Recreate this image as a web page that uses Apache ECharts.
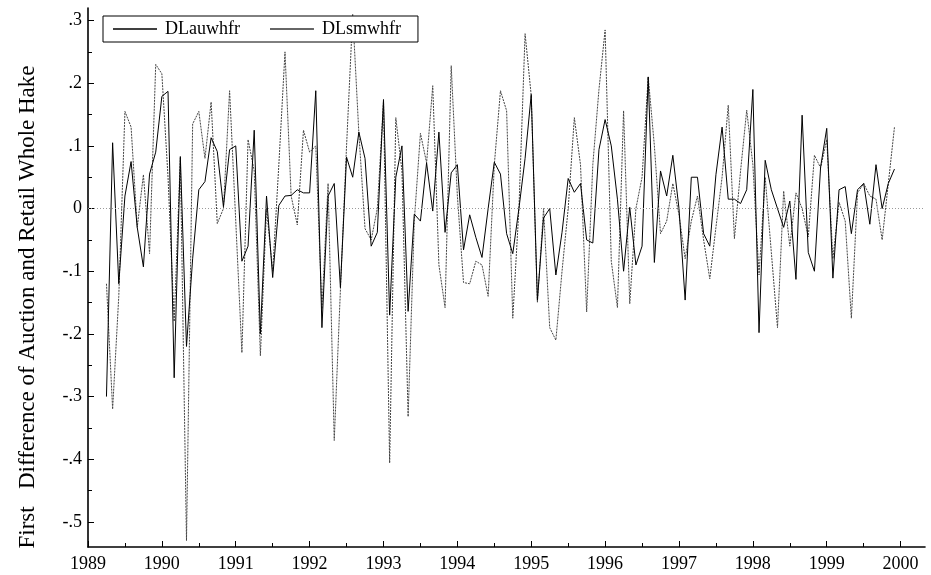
<!DOCTYPE html>
<html>
<head>
<meta charset="utf-8">
<script src="https://cdn.jsdelivr.net/npm/echarts@6/dist/echarts.min.js"></script>
<style>
html,body{margin:0;padding:0;background:#fff;}
#chart{width:931px;height:575px;}
</style>
</head>
<body>
<div id="chart"></div>
<script>
// Monthly series, first observation April 1989
const startYear = 1989;
const startMonth = 4;
const seriesNames = ['DLauwhfr', 'DLsmwhfr'];
const auction = [
  -0.30, 0.105, -0.12, 0.02, 0.075, -0.03, -0.093, 0.055, 0.09,
  0.179, 0.187, -0.27, 0.083, -0.22, -0.08, 0.03, 0.043, 0.113, 0.091, 0.003, 0.094,
  0.10, -0.084, -0.06, 0.125, -0.20, 0.02, -0.11, 0.005, 0.02, 0.021, 0.03, 0.025,
  0.025, 0.188, -0.19, 0.02, 0.04, -0.126, 0.082, 0.05, 0.122, 0.08, -0.06, -0.038,
  0.174, -0.17, 0.05, 0.10, -0.164, -0.009, -0.02, 0.073, -0.004, 0.122, -0.038, 0.057,
  0.07, -0.066, -0.01, -0.046, -0.078, 0.0, 0.074, 0.055, -0.04, -0.072, 0.0, 0.08,
  0.182, -0.146, -0.015, 0.0, -0.106, -0.038, 0.048, 0.026, 0.04, -0.05, -0.055, 0.094,
  0.142, 0.10, 0.015, -0.10, 0.002, -0.09, -0.06, 0.21, -0.086, 0.06, 0.02, 0.085,
  0.0, -0.146, 0.05, 0.05, -0.04, -0.06, 0.054, 0.13, 0.015, 0.015, 0.008, 0.03,
  0.19, -0.198, 0.077, 0.03, 0.0, -0.03, 0.012, -0.113, 0.149, -0.07, -0.10, 0.066,
  0.128, -0.111, 0.03, 0.035, -0.04, 0.03, 0.04, -0.025, 0.07, 0.0, 0.04, 0.063
];
const retail = [
  -0.12, -0.32, -0.14, 0.155, 0.13, -0.03, 0.054, -0.072, 0.23,
  0.215, 0.05, -0.18, 0.08, -0.53, 0.135, 0.155, 0.08, 0.17, -0.024, 0.0, 0.188,
  -0.02, -0.23, 0.11, 0.06, -0.235, 0.0, -0.10, 0.07, 0.25, 0.02, -0.026, 0.125,
  0.09, 0.10, -0.16, 0.04, -0.37, -0.13, 0.10, 0.31, 0.12, -0.032, -0.05, 0.0,
  0.17, -0.406, 0.145, 0.06, -0.332, -0.02, 0.12, 0.073, 0.196, -0.09, -0.158, 0.228,
  0.02, -0.118, -0.12, -0.084, -0.09, -0.14, 0.07, 0.188, 0.156, -0.175, 0.0, 0.279,
  0.18, -0.15, 0.0, -0.19, -0.21, -0.10, 0.0, 0.145, 0.07, -0.165, 0.07, 0.19,
  0.285, -0.084, -0.158, 0.156, -0.152, 0.0, 0.05, 0.21, 0.10, -0.04, -0.02, 0.04,
  -0.01, -0.08, -0.02, 0.02, -0.05, -0.112, -0.03, 0.05, 0.165, -0.048, 0.06, 0.157,
  0.07, -0.106, 0.05, -0.07, -0.19, 0.028, -0.06, 0.025, 0.0, -0.045, 0.085, 0.065,
  0.11, -0.08, 0.01, -0.02, -0.175, 0.025, 0.04, 0.02, 0.015, -0.05, 0.04, 0.13
];
const yearTicks = [1989, 1990, 1991, 1992, 1993, 1994, 1995, 1996, 1997, 1998, 1999, 2000];
const halfYearTicks = [1989.5, 1990.5, 1991.5, 1992.5, 1993.5, 1994.5, 1995.5, 1996.5, 1997.5, 1998.5, 1999.5];
const yTicks = [-0.5, -0.4, -0.3, -0.2, -0.1, 0, 0.1, 0.2, 0.3];
const yMinorTicks = [-0.45, -0.35, -0.25, -0.15, -0.05, 0.05, 0.15, 0.25];
const yAxisTitle = 'First   Difference of Auction and Retail Whole Hake';

const timeOf = i => startYear + (startMonth - 1 + i) / 12;
const auctionData = auction.map((v, i) => [timeOf(i), v]);
const retailData = retail.map((v, i) => [timeOf(i), v]);

const serif = '"Liberation Serif", "Times New Roman", serif';
const fmtY = v => {
  const n = Math.round(v * 10);
  if (n === 0) return '0';
  return (n < 0 ? '-' : '') + '.' + Math.abs(n);
};

const chart = echarts.init(document.getElementById('chart'), null, {renderer: 'canvas'});
chart.setOption({
  animation: false,
  backgroundColor: '#fff',
  grid: {left: 88, right: 6, top: 8, bottom: 28, containLabel: false},
  legend: {
    show: true,
    left: 103, top: 16,
    orient: 'horizontal',
    backgroundColor: '#fff',
    borderColor: '#000', borderWidth: 1, borderRadius: 0,
    padding: [4, 17, 4, 10],
    itemGap: 30,
    itemWidth: 44, itemHeight: 1.5,
    icon: 'rect',
    textStyle: {fontFamily: serif, fontSize: 18, color: '#000', padding: [0, 0, 0, 3]},
    data: [
      {name: seriesNames[0], itemStyle: {color: '#000'}},
      {name: seriesNames[1], itemStyle: {color: '#333'}}
    ]
  },
  xAxis: [{
    type: 'value', min: 1989, max: 2000.33,
    axisLine: {onZero: false, lineStyle: {color: '#000', width: 1.6}},
    axisTick: {inside: true, length: 6, customValues: yearTicks, lineStyle: {color: '#000'}},
    axisLabel: {customValues: yearTicks, fontFamily: serif, fontSize: 18, color: '#000', margin: 8,
      formatter: v => String(Math.round(v))},
    splitLine: {show: false}
  }, {
    type: 'value', min: 1989, max: 2000.33, position: 'bottom',
    axisLine: {show: false, onZero: false},
    axisTick: {inside: true, length: 4, customValues: halfYearTicks, lineStyle: {color: '#000'}},
    axisLabel: {show: false},
    splitLine: {show: false}
  }],
  yAxis: [{
    type: 'value', min: -0.54, max: 0.32,
    axisLine: {onZero: false, lineStyle: {color: '#000', width: 1.6}},
    axisTick: {inside: true, length: 6, customValues: yTicks, lineStyle: {color: '#000'}},
    axisLabel: {customValues: yTicks, fontFamily: serif, fontSize: 18, color: '#000', margin: 6, formatter: fmtY},
    splitLine: {show: false}
  }, {
    type: 'value', min: -0.54, max: 0.32, position: 'left',
    axisLine: {show: false, onZero: false},
    axisTick: {inside: true, length: 4, customValues: yMinorTicks, lineStyle: {color: '#000'}},
    axisLabel: {show: false},
    splitLine: {show: false}
  }],
  graphic: [{
    type: 'text',
    x: 28, y: 307,
    rotation: Math.PI / 2,
    style: {
      text: yAxisTitle,
      font: '23px ' + serif,
      fill: '#000',
      align: 'center',
      verticalAlign: 'middle'
    }
  }],
  series: [{
    name: seriesNames[0], type: 'line', xAxisIndex: 0, yAxisIndex: 0,
    data: auctionData, symbol: 'none', z: 3,
    lineStyle: {color: '#000', width: 1},
    itemStyle: {color: '#000'},
    markLine: {
      silent: true, symbol: 'none', label: {show: false},
      lineStyle: {color: '#9a9a9a', width: 1, type: [1, 2]},
      data: [{yAxis: 0}]
    }
  }, {
    name: seriesNames[1], type: 'line', xAxisIndex: 0, yAxisIndex: 0,
    data: retailData, symbol: 'none', z: 2,
    lineStyle: {color: '#444', width: 1, type: [2, 1]},
    itemStyle: {color: '#444'}
  }]
});
</script>
</body>
</html>
